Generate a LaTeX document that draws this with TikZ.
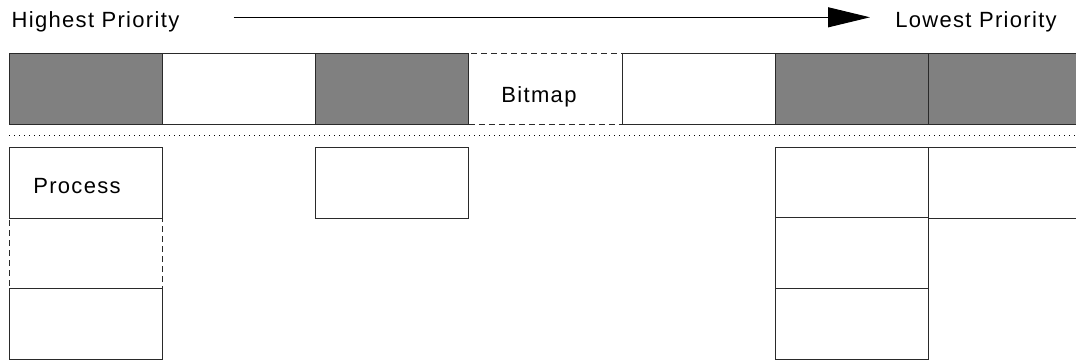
\documentclass[tikz,border=0pt]{standalone}
\usepackage{fontspec}
\setmainfont[LetterSpace=6]{Liberation Sans}
\usetikzlibrary{arrows.meta}
\definecolor{cellgray}{HTML}{808080}
\definecolor{edgegray}{HTML}{2A2A2A}
\begin{document}
\begin{tikzpicture}[x=0.5pt, y=-0.5pt,
  cell/.style={rectangle, draw=edgegray, line width=0.5pt, inner sep=0pt, minimum width=76.65pt, minimum height=35.5pt},
  fullcell/.style={cell, fill=cellgray},
  emptycell/.style={cell, fill=white},
  gapcell/.style={cell, dashed, dash pattern=on 3pt off 2pt},
  label/.style={inner sep=0pt, font=\fontsize{11}{13}\selectfont}]
\useasboundingbox (0,0) rectangle (1076,360);
\node[label] (hi) at (95.5,22){Highest Priority};
\node[label] (lo) at (976,22){Lowest Priority};
\coordinate (arrowstart) at (233.5,17.3);
\coordinate (arrowend) at (870,17.3);
\draw[line width=0.5pt, -{Triangle[length=21pt, width=10pt]}](arrowstart) -- (arrowend);
\node[gapcell] (bit3) at (545.6,88.5){};
\node[fullcell] (bit0) at (85.7,88.5){};
\node[emptycell] (bit1) at (239,88.5){};
\node[fullcell] (bit2) at (392.3,88.5){};
\node[emptycell] (bit4) at (699,88.5){};
\node[fullcell] (bit5) at (852.3,88.5){};
\node[fullcell] (bit6) at (1005.6,88.5){};
\node[label] (bitmap) at (539,97){Bitmap};
\coordinate (sepl) at (9,135);
\coordinate (sepr) at (1076,135);
\draw[line width=0.5pt, dotted, dash pattern=on 0.5pt off 2pt](sepl) -- (sepr);
\node[gapcell] (proc01) at (85.7,253.3){};
\node[emptycell] (proc00) at (85.7,182.7){};
\node[emptycell] (proc02) at (85.7,324){};
\node[label] (process) at (77,186){Process};
\node[emptycell] (proc20) at (392.3,182.7){};
\node[emptycell] (proc50) at (852.3,182.7){};
\node[emptycell] (proc51) at (852.3,253.3){};
\node[emptycell] (proc52) at (852.3,324){};
\node[emptycell] (proc60) at (1005.6,182.7){};
\end{tikzpicture}
\end{document}
